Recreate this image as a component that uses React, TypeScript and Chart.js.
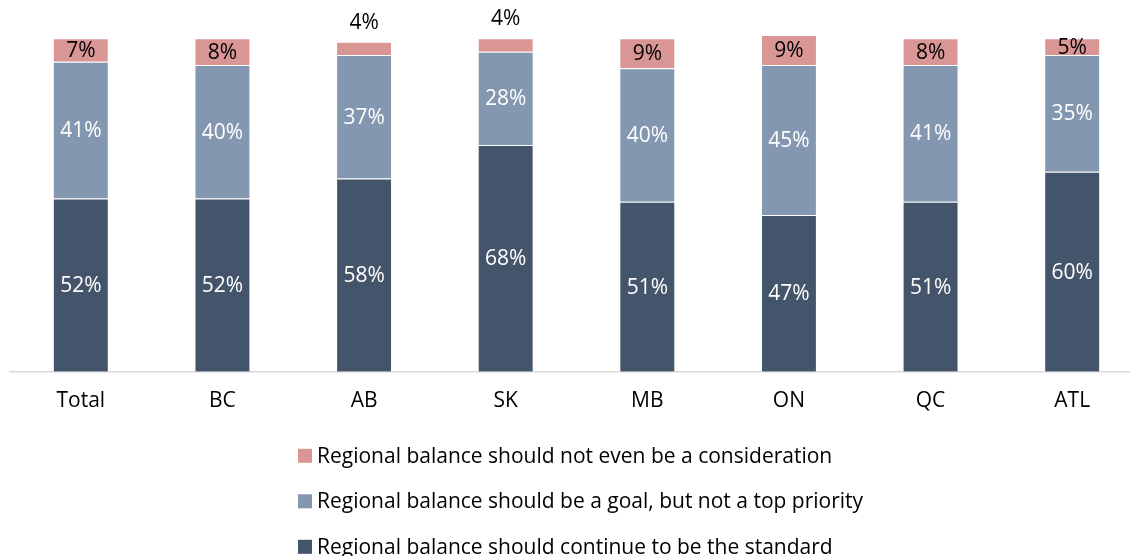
import { useEffect, useRef } from "react";
import { Chart, registerables } from "chart.js";

Chart.register(...registerables);

const FONT = "'Open Sans', Lato, sans-serif";

const categories = ["Total", "BC", "AB", "SK", "MB", "ON", "QC", "ATL"];
const standardValues = [52, 52, 58, 68, 51, 47, 51, 60];
const goalValues = [41, 40, 37, 28, 40, 45, 41, 35];
const notConsiderationValues = [7, 8, 4, 4, 9, 9, 8, 5];

const seriesLabels = [
  "Regional balance should continue to be the standard",
  "Regional balance should be a goal, but not a top priority",
  "Regional balance should not even be a consideration",
];
const seriesColors = ["#44546A", "#8497B0", "#DA9694"];
const labelColors = ["#FFFFFF", "#FFFFFF", "#000000"];

const segmentLabelPlugin = {
  id: "segmentLabels",
  afterDatasetsDraw(chart: any) {
    const ctx = chart.ctx;
    ctx.save();
    ctx.font = `21px ${FONT}`;
    ctx.textAlign = "center";
    ctx.textBaseline = "middle";
    chart.data.datasets.forEach((ds: any, di: number) => {
      const meta = chart.getDatasetMeta(di);
      meta.data.forEach((bar: any, i: number) => {
        const v = ds.data[i];
        const { x, y, base } = bar.getProps(["x", "y", "base"], true);
        let ly = (y + base) / 2;
        let color = labelColors[di];
        if (v < 5) {
          ly = y - 20;
          color = "#000000";
        }
        ctx.fillStyle = color;
        ctx.fillText(v + "%", x, ly + 1);
      });
    });
    ctx.restore();
  },
};

const stackedLegendPlugin = {
  id: "stackedLegend",
  afterDraw(chart: any) {
    const ctx = chart.ctx;
    const ds = chart.data.datasets;
    const bottom = chart.chartArea.bottom;
    ctx.save();
    ctx.font = `21px ${FONT}`;
    ctx.textBaseline = "middle";
    ctx.textAlign = "left";
    const order = ds.map((_: any, i: number) => i).reverse();
    order.forEach((di: number, row: number) => {
      const cy = bottom + 84 + row * 45.5;
      ctx.fillStyle = ds[di].backgroundColor;
      ctx.fillRect(298, cy - 7, 14, 14);
      ctx.fillStyle = "#000000";
      ctx.fillText(ds[di].label, 317, cy + 1);
    });
    ctx.restore();
  },
};

export default function App() {
  const canvasRef = useRef<HTMLCanvasElement | null>(null);

  useEffect(() => {
    document.body.style.margin = "0";
    const canvas = canvasRef.current;
    if (!canvas) return;
    const values = [standardValues, goalValues, notConsiderationValues];
    const chart = new Chart(canvas, {
      type: "bar",
      data: {
        labels: categories,
        datasets: values.map((data, i) => ({
          label: seriesLabels[i],
          data,
          backgroundColor: seriesColors[i],
          borderColor: "rgba(255,255,255,0.6)",
          borderWidth: 1,
          categoryPercentage: 1,
          barPercentage: 0.395,
        })),
      },
      options: {
        responsive: false,
        animation: false,
        devicePixelRatio: 1,
        layout: { padding: { top: 5, left: 10, right: 2, bottom: 125 } },
        plugins: {
          legend: { display: false },
          tooltip: { enabled: false },
        },
        scales: {
          x: {
            stacked: true,
            grid: { display: false, drawTicks: false },
            border: { display: true, color: "#D9D9D9", width: 1.5 },
            ticks: {
              color: "#000000",
              font: { family: FONT, size: 21 },
              padding: 17,
            },
          },
          y: {
            stacked: true,
            display: false,
            min: 0,
            max: 110,
          },
        },
      },
      plugins: [segmentLabelPlugin, stackedLegendPlugin],
    });
    return () => chart.destroy();
  }, []);

  return (
    <div style={{ width: 1130, height: 556, overflow: "hidden", background: "#fff" }}>
      <canvas ref={canvasRef} width={1145} height={556} style={{ width: 1145, height: 556, display: "block" }} />
    </div>
  );
}
